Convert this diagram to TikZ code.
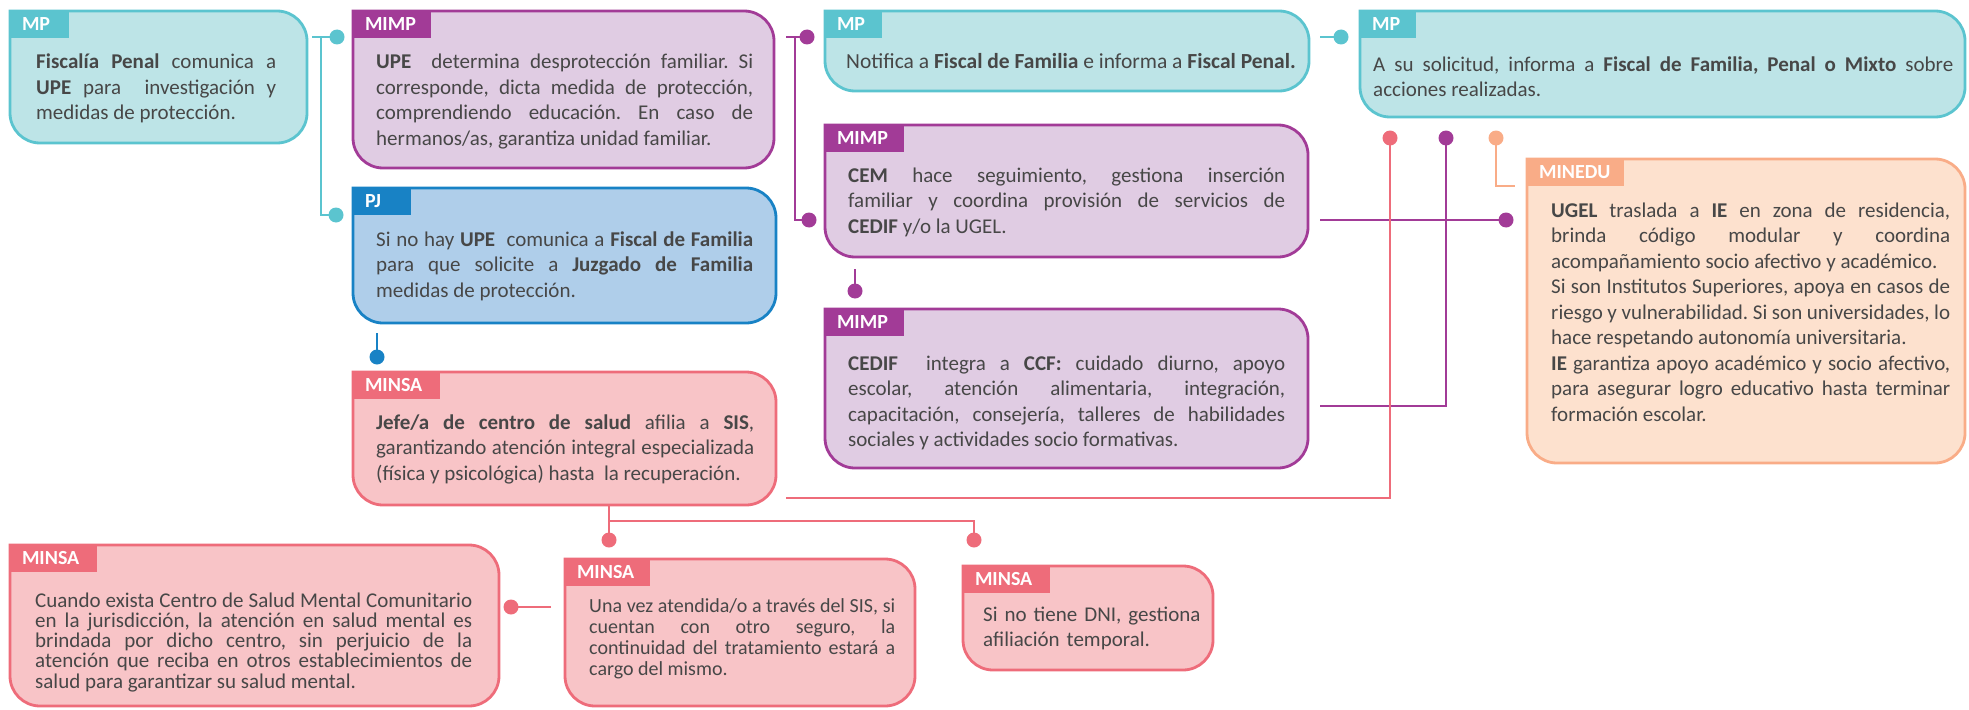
\documentclass[tikz,border=0pt]{standalone}
\usepackage{fontspec}
\setmainfont{Carlito}
\usetikzlibrary{fit}
\definecolor{mpB}{HTML}{5BC4CF}
\definecolor{mpF}{HTML}{BDE4E7}
\definecolor{miB}{HTML}{A23B97}
\definecolor{miF}{HTML}{E0CCE3}
\definecolor{pjB}{HTML}{1882C5}
\definecolor{pjF}{HTML}{AFCEEA}
\definecolor{msB}{HTML}{EE6C7A}
\definecolor{msF}{HTML}{F8C4C7}
\definecolor{edB}{HTML}{F9AC87}
\definecolor{edF}{HTML}{FDE1CE}
\definecolor{txtc}{HTML}{474747}
\setlength\parindent{0pt}
\setlength\parskip{0pt}
\frenchspacing
\newcommand\mypanel[6]{%
  \path[draw=#6B, fill=#6F, line width=2.8pt]
    (#2,#3) -- (#4-30,#3) arc[start angle=-90,end angle=0,radius=30]
    -- (#4,#5-30) arc[start angle=0,end angle=90,radius=30]
    -- (#2+30,#5) arc[start angle=90,end angle=180,radius=30] -- cycle;
  \node[fit={(#2,#3) (#4,#5)}, inner sep=0pt] (#1) {};
}
\tikzset{
  tag/.style={fill=#1, text=white, font=\fontsize{20}{24}\selectfont\bfseries,
    inner xsep=12pt, inner ysep=0pt, minimum height=27pt, anchor=north west, align=left},
  txt/.style={inner sep=0pt, anchor=base west, text=txtc, align=justify,
    font=\fontsize{21}{25.5}\selectfont},
  txtl/.style={inner sep=0pt, anchor=base west, text=txtc,
    font=\fontsize{21}{25.5}\selectfont},
  dot/.style={circle, fill=#1, inner sep=0pt, minimum size=15pt},
  conn/.style={draw=#1, line width=2pt},
}
\begin{document}
\begin{tikzpicture}[x=1pt,y=-1pt]
\useasboundingbox (0,0) rectangle (1969,709);

% ---------- panels
\mypanel{mpa}{10}{11}{307}{143}{mp}
\mypanel{mimpa}{353}{11}{774}{168}{mi}
\mypanel{pj}{353}{188}{776}{323}{pj}
\mypanel{msa}{353}{372}{776}{505}{ms}
\mypanel{mpb}{825}{11}{1309}{91}{mp}
\mypanel{mpc}{1360}{11}{1965}{117}{mp}
\mypanel{cem}{825}{125}{1308}{257}{mi}
\mypanel{cedif}{825}{309}{1308}{468}{mi}
\mypanel{edu}{1527}{159}{1965}{463}{ed}
\mypanel{msb}{10}{545}{499}{706}{ms}
\mypanel{msc}{565}{559}{915}{706}{ms}
\mypanel{msd}{963}{566}{1213}{670}{ms}

% ---------- tags
\node[tag=mpB, text width=35pt] (mpatag) at (mpa.north west) {MP};
\node[tag=miB, text width=54pt] (mimpatag) at (mimpa.north west) {MIMP};
\node[tag=pjB, text width=34pt] (pjtag) at (pj.north west) {PJ};
\node[tag=msB, text width=63pt] (msatag) at (msa.north west) {MINSA};
\node[tag=mpB, text width=33pt] (mpbtag) at (mpb.north west) {MP};
\node[tag=mpB, text width=32pt] (mpctag) at (mpc.north west) {MP};
\node[tag=miB, text width=55pt] (cemtag) at (cem.north west) {MIMP};
\node[tag=miB, text width=55pt] (cediftag) at (cedif.north west) {MIMP};
\node[tag=edB, text width=73pt] (edutag) at (edu.north west) {MINEDU};
\node[tag=msB, text width=63pt] (msbtag) at (msb.north west) {MINSA};
\node[tag=msB, text width=61pt] (msctag) at (msc.north west) {MINSA};
\node[tag=msB, text width=63pt] (msdtag) at (msd.north west) {MINSA};

% ---------- texts
\node[txt, text width=240pt] (mpatx) at (36,69)
  {\textbf{Fiscalía Penal} comunica a\linebreak \textbf{UPE} para \ investigación y\linebreak medidas de protección.};
\node[txt, text width=377pt] (mimpatx) at (376,69)
  {\textbf{UPE} \ determina desprotección familiar. Si\linebreak corresponde, dicta medida de protección,\linebreak comprendiendo educación. En caso de\linebreak hermanos/as, garantiza unidad familiar.};
\node[txt, text width=377pt] (pjtx) at (376,246)
  {Si no hay \textbf{UPE} \ comunica a \textbf{Fiscal de Familia}\linebreak para que solicite a \textbf{Juzgado de Familia}\linebreak medidas de protección.};
\node[txt, text width=378pt] (msatx) at (376,429)
  {\textbf{Jefe/a de centro de salud} afilia a \textbf{SIS},\linebreak garantizando atención integral especializada\linebreak (física y psicológica) hasta \ la recuperación.};
\node[txtl, font=\fontsize{21.5}{25.5}\selectfont] (mpbtx) at (846,68)
  {Notifica a \textbf{Fiscal de Familia} e informa a \textbf{Fiscal Penal.}};
\node[txt, text width=580pt] (mpctx) at (1373,71)
  {A su solicitud, informa a \textbf{Fiscal de Familia, Penal o Mixto} sobre\linebreak acciones realizadas.};
\node[txt, text width=437pt] (cemtx) at (848,182)
  {\textbf{CEM} hace seguimiento, gestiona inserción\linebreak familiar y coordina provisión de servicios de\linebreak \textbf{CEDIF} y/o la UGEL.};
\node[txt, text width=437pt] (ceditx) at (848,370)
  {\textbf{CEDIF} \ integra a \textbf{CCF:} cuidado diurno, apoyo\linebreak escolar, atención alimentaria, integración,\linebreak capacitación, consejería, talleres de habilidades\linebreak sociales y actividades socio formativas.};
\node[txt, text width=399pt] (edutx) at (1551,217)
  {\textbf{UGEL} traslada a \textbf{IE} en zona de residencia,\linebreak brinda código modular y coordina\linebreak acompañamiento socio afectivo y académico.\par
   Si son Institutos Superiores, apoya en casos de\linebreak riesgo y vulnerabilidad. Si son universidades, lo\linebreak hace respetando autonomía universitaria.\par
   \textbf{IE} garantiza apoyo académico y socio afectivo,\linebreak para asegurar logro educativo hasta terminar\linebreak formación escolar.};
\node[txt, text width=437pt, font=\fontsize{21}{20.3}\selectfont] (msbtx) at (35,607)
  {Cuando exista Centro de Salud Mental Comunitario\linebreak en la jurisdicción, la atención en salud mental es\linebreak brindada por dicho centro, sin perjuicio de la\linebreak atención que reciba en otros establecimientos de\linebreak salud para garantizar su salud mental.};
\node[txt, text width=306pt, font=\fontsize{20}{21}\selectfont] (msctx) at (589,612)
  {Una vez atendida/o a través del SIS, si\linebreak cuentan con otro seguro, la\linebreak continuidad del tratamiento estará a\linebreak cargo del mismo.};
\node[txt, text width=220pt, align=left, font=\fontsize{21}{25}\selectfont] (msdtx) at (983,621)
  {Si no tiene DNI, gestiona\\ afiliación temporal.};

% ---------- connector coordinates
\coordinate (c1o) at (312,37);
\coordinate (c1t) at (321,37);
\coordinate (p1a) at (337,37);
\coordinate (p1b) at (336,215);
\coordinate (c2o) at (786,37);
\coordinate (c2t) at (795,37);
\coordinate (p2a) at (807,37);
\coordinate (p2b) at (809,220);
\coordinate (c3o) at (1320,37);
\coordinate (p3) at (1341,37);
\coordinate (c4) at (377,333);
\coordinate (p4) at (377,357);
\coordinate (c5) at (855,269);
\coordinate (p5) at (855,291);
\coordinate (c6) at (1320,220);
\coordinate (p6) at (1506,220);
\coordinate (c7) at (1320,406);
\coordinate (p7) at (1446,138);
\coordinate (c8) at (786,498);
\coordinate (p8) at (1390,138);
\coordinate (p9) at (1496,138);
\coordinate (c9) at (1515,186);
\coordinate (c10) at (609,505);
\coordinate (c10j) at (609,521);
\coordinate (p10a) at (609,540);
\coordinate (p10b) at (974,540);
\coordinate (c11) at (551,607);
\coordinate (p11) at (511,607);

% ---------- connectors
\draw[conn=mpB] (c1o) -- (p1a);
\draw[conn=mpB] (c1t) |- (p1b);
\draw[conn=miB] (c2o) -- (p2a);
\draw[conn=miB] (c2t) |- (p2b);
\draw[conn=mpB] (c3o) -- (p3);
\draw[conn=pjB] (c4) -- (p4);
\draw[conn=miB] (c5) -- (p5);
\draw[conn=miB] (c6) -- (p6);
\draw[conn=miB] (c7) -| (p7);
\draw[conn=msB, line width=1.6pt] (c8) -| (p8);
\draw[conn=edB] (p9) |- (c9);
\draw[conn=msB, line width=1.6pt] (c10) -- (p10a);
\draw[conn=msB, line width=1.6pt] (c10j) -| (p10b);
\draw[conn=msB, line width=1.6pt] (c11) -- (p11);

% ---------- dots
\node[dot=mpB] (d1a) at (p1a) {};
\node[dot=mpB] (d1b) at (p1b) {};
\node[dot=miB] (d2a) at (p2a) {};
\node[dot=miB] (d2b) at (p2b) {};
\node[dot=mpB] (d3) at (p3) {};
\node[dot=pjB] (d4) at (p4) {};
\node[dot=miB] (d5) at (p5) {};
\node[dot=miB] (d6) at (p6) {};
\node[dot=miB] (d7) at (p7) {};
\node[dot=msB] (d8) at (p8) {};
\node[dot=edB] (d9) at (p9) {};
\node[dot=msB] (d10a) at (p10a) {};
\node[dot=msB] (d10b) at (p10b) {};
\node[dot=msB] (d11) at (p11) {};
\end{tikzpicture}
\end{document}
